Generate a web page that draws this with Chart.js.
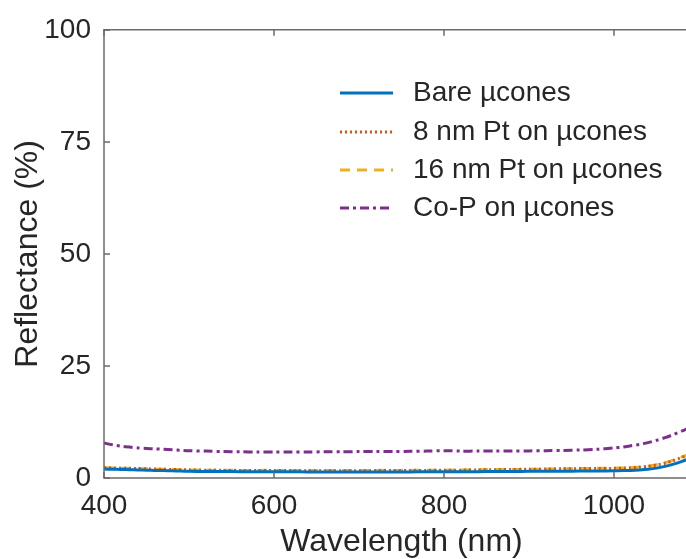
<!DOCTYPE html>
<html>
<head>
<meta charset="utf-8">
<script src="https://cdn.jsdelivr.net/npm/chart.js@4.4.1/dist/chart.umd.min.js"></script>
<style>
html, body { margin:0; padding:0; overflow:hidden; background:#fff; }
#wrap { width:700px; height:559px; }
</style>
</head>
<body>
<div id="wrap"><canvas id="c" width="700" height="559"></canvas></div>
<script>
// ---- data ----
const wavelengths = [400,410,420,430,440,450,460,470,480,490,500,520,540,560,580,600,620,640,660,680,700,720,740,760,780,800,820,840,860,880,900,920,940,960,980,1000,1010,1020,1030,1040,1050,1060,1070,1080,1090,1100];
const bareCones  = [2.0,1.95,1.9,1.85,1.8,1.75,1.7,1.65,1.6,1.55,1.5,1.45,1.45,1.4,1.4,1.4,1.4,1.35,1.35,1.35,1.35,1.35,1.35,1.35,1.4,1.4,1.4,1.4,1.45,1.45,1.5,1.5,1.5,1.55,1.55,1.6,1.65,1.7,1.8,1.95,2.2,2.6,3.1,3.7,4.4,5.1];
const pt8Cones   = [2.3,2.25,2.2,2.15,2.1,2.05,2.0,1.95,1.9,1.85,1.8,1.75,1.7,1.7,1.65,1.65,1.65,1.6,1.6,1.6,1.6,1.65,1.65,1.7,1.7,1.75,1.75,1.8,1.85,1.9,1.95,2.0,2.05,2.1,2.1,2.15,2.2,2.3,2.4,2.6,2.9,3.3,3.9,4.6,5.3,6.0];
const pt16Cones  = [2.3,2.25,2.2,2.15,2.1,2.05,2.0,1.95,1.9,1.85,1.8,1.75,1.75,1.7,1.7,1.7,1.65,1.65,1.65,1.65,1.65,1.7,1.7,1.7,1.75,1.75,1.8,1.85,1.9,1.9,1.95,2.0,2.05,2.1,2.15,2.2,2.25,2.3,2.45,2.65,2.95,3.4,4.0,4.7,5.4,6.1];
const copCones   = [7.8,7.4,7.1,6.9,6.7,6.6,6.5,6.4,6.3,6.2,6.1,6.0,5.9,5.85,5.8,5.8,5.8,5.8,5.85,5.85,5.9,5.9,5.9,5.95,6.0,6.1,6.0,6.0,6.0,6.0,6.05,6.1,6.15,6.25,6.4,6.7,6.9,7.2,7.5,7.9,8.4,9.0,9.7,10.5,11.3,12.4];
const seriesLabels = ['Bare \u00b5cones','8 nm Pt on \u00b5cones','16 nm Pt on \u00b5cones','Co-P on \u00b5cones'];
const xTickValues = [400,600,800,1000];
const yTickValues = [0,25,50,75,100];

const FONT = '"Liberation Sans", Arial, Helvetica, sans-serif';
const AXIS_COLOR = '#6b6b6b';
const TEXT_COLOR = '#262626';

function mk(vals){ return wavelengths.map((w,i)=>({x:w,y:vals[i]})); }

const boxPlugin = {
  id:'box',
  afterDatasetsDraw(chart){
    const {ctx, chartArea:a, scales:{x,y}} = chart;
    ctx.save();
    ctx.strokeStyle = AXIS_COLOR;
    ctx.lineWidth = 1.5;
    ctx.beginPath();
    ctx.moveTo(a.right+2, a.top); ctx.lineTo(a.left, a.top); ctx.lineTo(a.left, a.bottom); ctx.lineTo(a.right+2, a.bottom);
    ctx.stroke();
    const tl = 6;
    ctx.beginPath();
    xTickValues.forEach(v=>{
      const px = Math.round(x.getPixelForValue(v));
      ctx.moveTo(px, a.bottom); ctx.lineTo(px, a.bottom-tl);
      ctx.moveTo(px, a.top); ctx.lineTo(px, a.top+tl);
    });
    yTickValues.forEach(v=>{
      const py = Math.round(y.getPixelForValue(v));
      ctx.moveTo(a.left, py); ctx.lineTo(a.left+tl, py);
    });
    ctx.stroke();
    ctx.restore();
  },
  afterDraw(chart){
    const ctx = chart.ctx;
    const x0 = 340, x1 = 393, tx = 413, rowY = [93,132,170,208];
    ctx.save();
    chart.data.datasets.forEach((ds,i)=>{
      ctx.strokeStyle = ds.borderColor;
      ctx.lineWidth = ds.borderWidth;
      ctx.setLineDash(ds.borderDash || []);
      ctx.beginPath(); ctx.moveTo(x0,rowY[i]); ctx.lineTo(x1,rowY[i]); ctx.stroke();
      ctx.setLineDash([]);
      ctx.fillStyle = TEXT_COLOR;
      ctx.font = '28px ' + FONT;
      ctx.textBaseline = 'middle';
      ctx.textAlign = 'left';
      ctx.fillText(ds.label, tx, rowY[i]);
    });
    ctx.restore();
  }
};

new Chart(document.getElementById('c'), {
  type:'line',
  data:{
    datasets:[
      {label:seriesLabels[0], data:mk(bareCones), borderColor:'#0072BD', borderWidth:3, pointRadius:0, tension:0.3},
      {label:seriesLabels[1], data:mk(pt8Cones), borderColor:'#D95319', borderWidth:3, borderDash:[2,3], pointRadius:0, tension:0.3},
      {label:seriesLabels[2], data:mk(pt16Cones), borderColor:'#EDB120', borderWidth:3, borderDash:[10,7], pointRadius:0, tension:0.3},
      {label:seriesLabels[3], data:mk(copCones), borderColor:'#7E2F8E', borderWidth:3, borderDash:[9,4,3,4], pointRadius:0, tension:0.3}
    ]
  },
  options:{
    responsive:false,
    animation:false,
    layout:{padding:{left:0, top:27, right:1, bottom:0}},
    plugins:{legend:{display:false}, tooltip:{enabled:false}},
    scales:{
      x:{
        type:'linear', min:400, max:1100,
        afterBuildTicks(s){ s.ticks = xTickValues.map(v=>({value:v})); },
        afterFit(s){ s.height = 81; },
        grid:{display:false, drawTicks:false},
        border:{display:false},
        ticks:{padding:11, color:TEXT_COLOR, font:{family:FONT, size:28}, maxRotation:0, callback:(v)=>String(v)},
        title:{display:true, text:'Wavelength (nm)', color:TEXT_COLOR, font:{family:FONT, size:32}, padding:{top:0,bottom:-2}}
      },
      y:{
        min:0, max:100,
        afterBuildTicks(s){ s.ticks = yTickValues.map(v=>({value:v})); },
        afterFit(s){ s.width = 104; },
        grid:{display:false, drawTicks:false},
        border:{display:false},
        ticks:{padding:13, color:TEXT_COLOR, font:{family:FONT, size:28}, callback:(v)=>String(v)},
        title:{display:true, text:'Reflectance (%)', color:TEXT_COLOR, font:{family:FONT, size:32}, padding:{top:9,bottom:0}}
      }
    }
  },
  plugins:[boxPlugin]
});
</script>
</body>
</html>
